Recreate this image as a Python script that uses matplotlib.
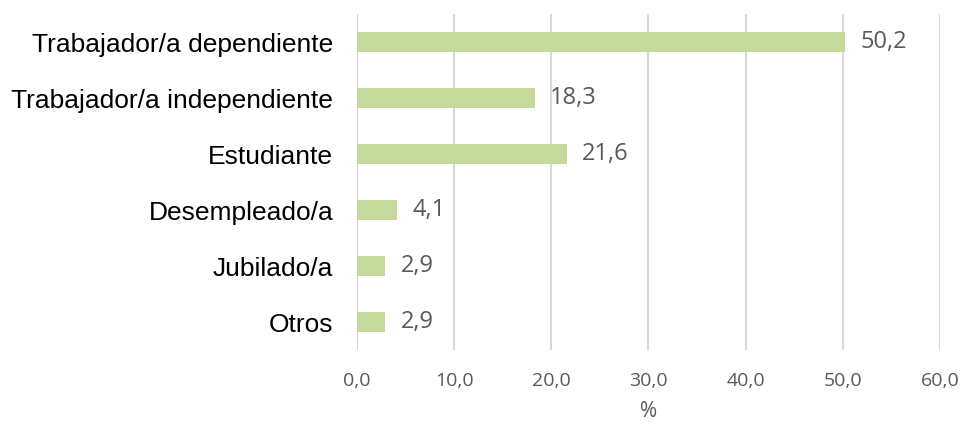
import numpy as np
import matplotlib
matplotlib.use("Agg")
from matplotlib import pyplot as plt

# data
categories = ["Trabajador/a dependiente", "Trabajador/a independiente", "Estudiante",
              "Desempleado/a", "Jubilado/a", "Otros"]
values = [50.2, 18.3, 21.6, 4.1, 2.9, 2.9]
xticks = [0, 10, 20, 30, 40, 50, 60]

def fmt(v):
    return f"{v:.1f}".replace(".", ",")

fig = plt.figure(figsize=(9.64, 4.28), dpi=100)
ax = fig.add_axes([0.3703, 0.1822, 0.6048, 0.785])

y = np.arange(len(categories))
ax.barh(y, values, height=0.36, color="#C5D99C", zorder=3)
for yi, v in zip(y, values):
    ax.annotate(fmt(v), (v, yi), xytext=(11, 0), textcoords="offset points",
                va="center", ha="left", fontsize=17, color="#595959",
                family="Open Sans")

ax.set_ylim(len(categories) - 0.5, -0.5)
ax.set_xlim(0, 60)
ax.set_xticks(xticks)
ax.set_xticklabels([fmt(t) for t in xticks], fontsize=14, color="#595959", family="Open Sans")
ax.set_yticks(y)
ax.set_yticklabels(categories, fontsize=19, color="black", family="Liberation Sans")
ax.tick_params(axis="y", length=0, pad=17)
ax.tick_params(axis="x", length=0, pad=16)
ax.set_xlabel("%", fontsize=15, color="#595959", family="Open Sans", labelpad=8)

ax.grid(axis="x", color="#D9D9D9", linewidth=1.5, zorder=0)
for s in ax.spines.values():
    s.set_visible(False)

plt.savefig("out.png", dpi=100)
